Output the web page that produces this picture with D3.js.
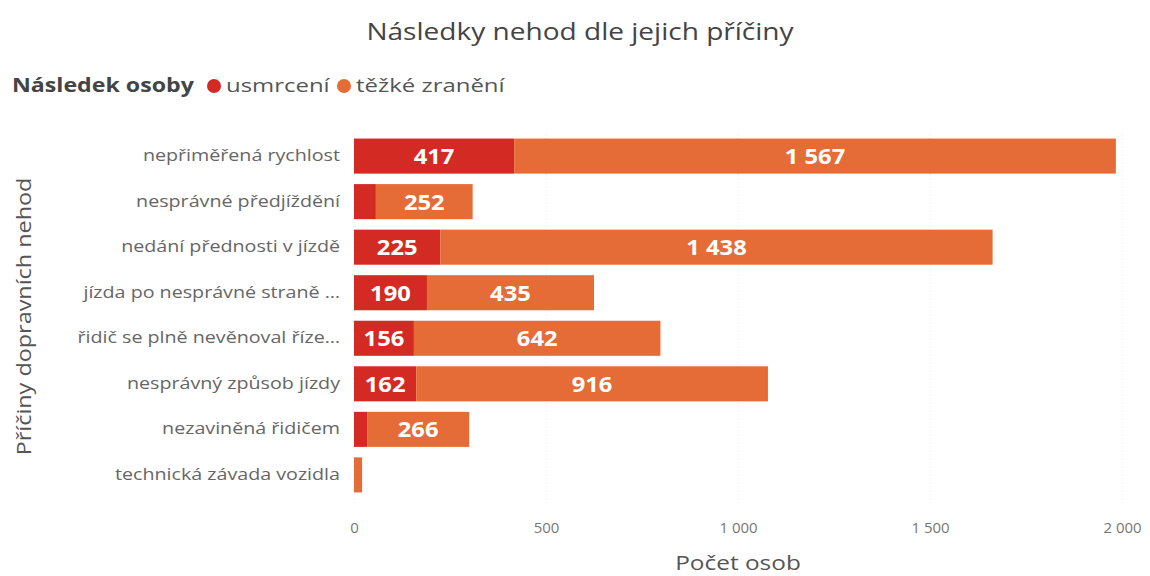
<!DOCTYPE html>
<html>
<head>
<meta charset="utf-8">
<script src="https://cdn.jsdelivr.net/npm/d3@7"></script>
<style>
  body { margin: 0; background: #fff; }
  text { font-family: "Segoe UI", "Open Sans", "Noto Sans", sans-serif; }
</style>
</head>
<body>
<div id="chart"></div>
<script>
const categories = [
  "nepřiměřená rychlost",
  "nesprávné předjíždění",
  "nedání přednosti v jízdě",
  "jízda po nesprávné straně …",
  "řidič se plně nevěnoval říze…",
  "nesprávný způsob jízdy",
  "nezaviněná řidičem",
  "technická závada vozidla"
]
const usmrceni = [417, 57, 225, 190, 156, 162, 34, 0]
const tezkeZraneni = [1567, 252, 1438, 435, 642, 916, 266, 21]
const seriesNames = ["usmrcení", "těžké zranění"]
const xTicks = [0, 500, 1000, 1500, 2000]

const width = 1150, height = 576
const colors = ["#D32A24", "#E66C37"]
const margin = {left: 354, right: 28, top: 134, bottom: 79}
// the reference text is drawn a bit wider than it is tall
const sx = 1.22

const fmt = v => d3.format(",")(v).replace(/,/g, " ")

const svg = d3.select("#chart").append("svg")
  .attr("width", width)
  .attr("height", height)

// text placed at (x, y), stretched horizontally about its anchor
const label = (g, x, y, k) => g.append("text")
  .attr("transform", `translate(${x}, ${y}) scale(${k}, 1)`)

const x = d3.scaleLinear()
  .domain([0, 2000])
  .range([margin.left, 1122])

const y = d3.scaleBand()
  .domain(categories)
  .range([margin.top, height - margin.bottom])
  .paddingInner(0.23)
  .paddingOuter(0.1)

const rows = categories.map((c, i) => ({cat: c, usmrceni: usmrceni[i], tezke: tezkeZraneni[i]}))
const stacked = d3.stack().keys(["usmrceni", "tezke"])(rows)

// title
label(svg, 580, 40, sx)
  .attr("text-anchor", "middle")
  .style("font-size", "23px")
  .style("fill", "#444")
  .text("Následky nehod dle jejich příčiny")

// legend
const legend = svg.append("g").attr("transform", "translate(12, 92)")
label(legend, 0, 0, sx)
  .style("font-size", "19px").style("font-weight", "bold").style("fill", "#444")
  .text("Následek osoby")
const lx = [202, 332]
seriesNames.forEach((s, i) => {
  legend.append("circle").attr("cx", lx[i]).attr("cy", -6).attr("r", 7).attr("fill", colors[i])
  label(legend, lx[i] + 12, 0, sx + 0.04)
    .style("font-size", "19px").style("fill", "#555")
    .text(s)
})

// gridlines
svg.append("g")
  .selectAll("line")
  .data(xTicks)
  .join("line")
    .attr("x1", d => x(d)).attr("x2", d => x(d))
    .attr("y1", margin.top).attr("y2", height - margin.bottom + 6)
    .attr("stroke", "#e2e2e2")
    .attr("stroke-dasharray", "1,3")

// x axis
const xAxis = svg.append("g")
  .attr("transform", `translate(0, ${height - margin.bottom})`)
  .call(d3.axisBottom(x).tickValues(xTicks).tickFormat(fmt).tickSize(0).tickPadding(25))
xAxis.select(".domain").remove()
xAxis.selectAll("text")
  .style("font-size", "15px").style("fill", "#777")
  .style("font-family", "\"Segoe UI\", \"Open Sans\", sans-serif")

label(svg, x(1000), 570, sx)
  .attr("text-anchor", "middle")
  .style("font-size", "20px").style("fill", "#555")
  .text("Počet osob")

// y axis
const yAxis = svg.append("g")
  .attr("transform", `translate(${margin.left - 14}, 0)`)
  .call(d3.axisLeft(y).tickSize(0).tickPadding(0))
yAxis.select(".domain").remove()
yAxis.selectAll("text")
  .attr("transform", `scale(${sx + 0.01}, 1)`)
  .style("font-size", "16px").style("fill", "#666")
  .style("font-family", "\"Segoe UI\", \"Open Sans\", sans-serif")

svg.append("text")
  .attr("transform", `translate(31, ${(margin.top + height - margin.bottom) / 2 + 1}) rotate(-90) scale(${sx - 0.05}, 1)`)
  .attr("text-anchor", "middle")
  .style("font-size", "20px").style("fill", "#555")
  .text("Příčiny dopravních nehod")

// bars
const layers = svg.append("g")
  .selectAll("g")
  .data(stacked)
  .join("g")
    .attr("fill", (d, i) => colors[i])

layers.selectAll("rect")
  .data(d => d)
  .join("rect")
    .attr("x", d => x(d[0]))
    .attr("y", d => y(d.data.cat))
    .attr("width", d => x(d[1]) - x(d[0]))
    .attr("height", y.bandwidth())

// data labels, only where the segment is wide enough
const labels = svg.append("g")
stacked.forEach(layer => {
  layer.forEach(d => {
    const v = d[1] - d[0]
    const w = x(d[1]) - x(d[0])
    const t = fmt(v)
    if (v <= 0 || w < t.length * 12 + 10) return
    label(labels, (x(d[0]) + x(d[1])) / 2, y(d.data.cat) + y.bandwidth() / 2, 1.08)
      .attr("dy", "0.36em")
      .attr("text-anchor", "middle")
      .style("font-size", "22px").style("font-weight", "bold").style("fill", "#fff")
      .text(t)
  })
})
</script>
</body>
</html>
